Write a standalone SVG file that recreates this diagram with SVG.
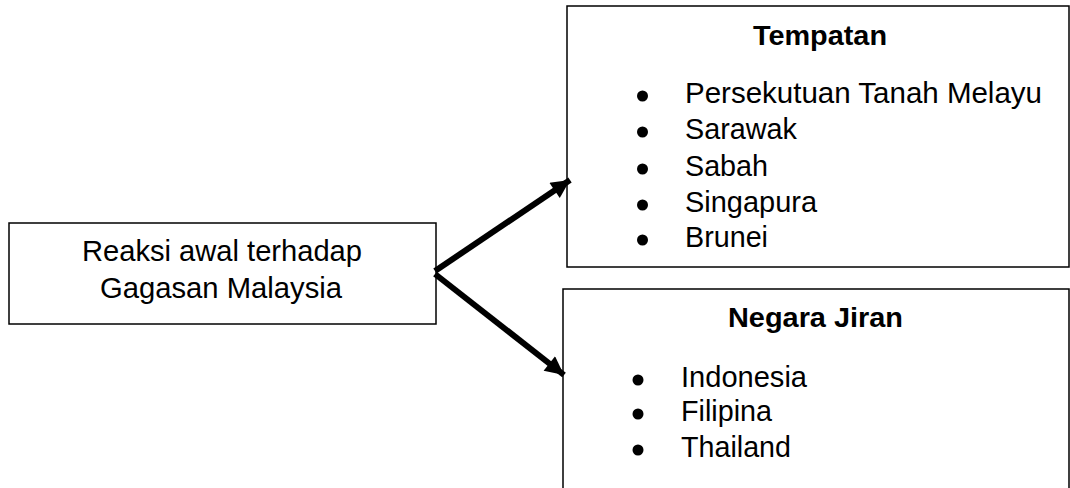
<svg xmlns="http://www.w3.org/2000/svg" width="1070" height="488" viewBox="0 0 1070 488">
<style>
.box{fill:#fff;stroke:#000;stroke-width:1.5}
.t{font-family:"Liberation Sans",Arial,sans-serif;font-size:29px;fill:#000}
.h{font-family:"Liberation Sans",Arial,sans-serif;font-size:28.5px;font-weight:bold;fill:#000}
.b{fill:#000}
.c{stroke:#000;stroke-width:6;fill:none}
</style>
<defs>
<marker id="ah" viewBox="0 0 10 10" refX="10" refY="5" markerWidth="3.6" markerHeight="3.1" orient="auto" markerUnits="strokeWidth">
<path d="M0,0 L10,5 L0,10 Z" fill="#000"/>
</marker>
</defs>
<rect width="1070" height="488" fill="#fff"/>
<g id="n-reaksi">
<rect class="box" x="9" y="223" width="427" height="101"/>
<text class="t" x="82" y="261" textLength="280" lengthAdjust="spacingAndGlyphs">Reaksi awal terhadap</text>
<text class="t" x="100" y="298" textLength="242" lengthAdjust="spacingAndGlyphs">Gagasan Malaysia</text>
</g>
<g id="n-tempatan">
<rect class="box" x="567" y="6" width="502" height="261"/>
<text class="h" x="753" y="45" textLength="134" lengthAdjust="spacingAndGlyphs">Tempatan</text>
<circle class="b" cx="642.5" cy="96" r="5.5"/>
<circle class="b" cx="642.5" cy="132" r="5.5"/>
<circle class="b" cx="642.5" cy="169" r="5.5"/>
<circle class="b" cx="642.5" cy="205" r="5.5"/>
<circle class="b" cx="642.5" cy="240" r="5.5"/>
<text class="t" x="685" y="103" textLength="357" lengthAdjust="spacingAndGlyphs">Persekutuan Tanah Melayu</text>
<text class="t" x="685" y="139" textLength="112" lengthAdjust="spacingAndGlyphs">Sarawak</text>
<text class="t" x="685" y="176" textLength="83" lengthAdjust="spacingAndGlyphs">Sabah</text>
<text class="t" x="685" y="212" textLength="132" lengthAdjust="spacingAndGlyphs">Singapura</text>
<text class="t" x="685" y="247" textLength="83" lengthAdjust="spacingAndGlyphs">Brunei</text>
</g>
<g id="n-jiran">
<path class="box" d="M563,490 L563,289 L1069,289 L1069,490"/>
<text class="h" x="728" y="327" textLength="175" lengthAdjust="spacingAndGlyphs">Negara Jiran</text>
<circle class="b" cx="638" cy="380" r="5.5"/>
<circle class="b" cx="638" cy="414" r="5.5"/>
<circle class="b" cx="638" cy="450" r="5.5"/>
<text class="t" x="681" y="387" textLength="126" lengthAdjust="spacingAndGlyphs">Indonesia</text>
<text class="t" x="681" y="421" textLength="91" lengthAdjust="spacingAndGlyphs">Filipina</text>
<text class="t" x="681" y="457" textLength="110" lengthAdjust="spacingAndGlyphs">Thailand</text>
</g>
<g id="connectors">
<line class="c" x1="435" y1="271" x2="570" y2="180" marker-end="url(#ah)"/>
<line class="c" x1="435" y1="274" x2="564" y2="375" marker-end="url(#ah)"/>
</g>
</svg>
